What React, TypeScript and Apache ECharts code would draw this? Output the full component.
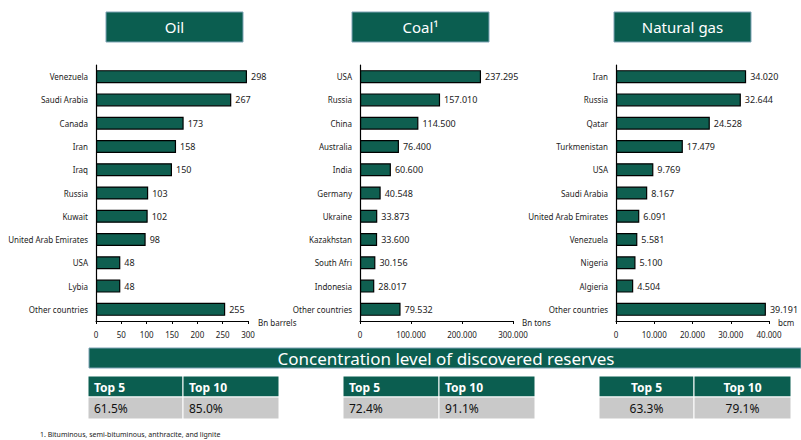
import React, { useEffect, useRef } from "react";
import * as echarts from "echarts";

const oilCountries = ["Venezuela", "Saudi Arabia", "Canada", "Iran", "Iraq", "Russia", "Kuwait", "United Arab Emirates", "USA", "Lybia", "Other countries"];
const oilValues = [298, 267, 173, 158, 150, 103, 102, 98, 48, 48, 255];

const coalCountries = ["USA", "Russia", "China", "Australia", "India", "Germany", "Ukraine", "Kazakhstan", "South Afri", "Indonesia", "Other countries"];
const coalValues = [237295, 157010, 114500, 76400, 60600, 40548, 33873, 33600, 30156, 28017, 79532];

const gasCountries = ["Iran", "Russia", "Qatar", "Turkmenistan", "USA", "Saudi Arabia", "United Arab Emirates", "Venezuela", "Nigeria", "Algieria", "Other countries"];
const gasValues = [34020, 32644, 24528, 17479, 9769, 8167, 6091, 5581, 5100, 4504, 39191];

const panelTitles = ["Oil", "Coal¹", "Natural gas"];
const unitLabels = ["Bn barrels", "Bn tons", "bcm"];
const axisMax = [300, 300000, 40000];
const axisInterval = [50, 100000, 10000];

const concHeaders = ["Top 5", "Top 10"];
const oilConc = ["61.5%", "85.0%"];
const coalConc = ["72.4%", "91.1%"];
const gasConc = ["63.3%", "79.1%"];
const bannerText = "Concentration level of discovered reserves";
const footnote = "1. Bituminous, semi-bituminous, anthracite, and lignite";

const GREEN = "#0B5E50";
const BAR = "#0F5F50";
const FONT = "'Noto Sans', 'Open Sans', sans-serif";

const fmtDots = (n: number) => String(n).replace(/\B(?=(\d{3})+(?!\d))/g, ".");

export default function App() {
  const ref = useRef<HTMLDivElement>(null);
  useEffect(() => {
    if (!ref.current) return;
    const chart = echarts.init(ref.current, null, { renderer: "svg" });

    const grids = [
      { left: 96, top: 65, width: 152, height: 256 },
      { left: 360, top: 65, width: 153, height: 256 },
      { left: 616, top: 65, width: 153, height: 256 },
    ];
    const cats = [oilCountries, coalCountries, gasCountries];
    const vals = [oilValues, coalValues, gasValues];
    const fmts = [(v: number) => String(v), fmtDots, fmtDots];

    const titleBoxes = [
      { x: 106, w: 137 },
      { x: 352, w: 137 },
      { x: 614, w: 137 },
    ];
    const unitPos = [258, 522, 778];

    const graphic: any[] = [];
    titleBoxes.forEach((b, i) => {
      graphic.push({
        type: "rect",
        shape: { x: b.x, y: 12, width: b.w, height: 30 },
        style: { fill: GREEN, stroke: "#7FA3B5", lineWidth: 1 },
      });
      graphic.push({
        type: "text",
        x: b.x + b.w / 2,
        y: 27,
        style: { text: panelTitles[i], fill: "#fff", font: `15px ${FONT}`, align: "center", verticalAlign: "middle" },
      });
      graphic.push({
        type: "text",
        x: unitPos[i],
        y: 322,
        style: { text: unitLabels[i], fill: "#222", font: `8px ${FONT}`, align: "left", verticalAlign: "middle" },
      });
    });

    graphic.push({
      type: "rect",
      shape: { x: 89, y: 348, width: 712, height: 20 },
      style: { fill: GREEN, stroke: "#7FA3B5", lineWidth: 1 },
    });
    graphic.push({
      type: "text",
      x: 446,
      y: 358,
      style: { text: bannerText, fill: "#fff", font: `17px ${FONT}`, align: "center", verticalAlign: "middle" },
    });

    const tables = [
      { x: 88, split: 183, end: 279, vals: oilConc, center: false },
      { x: 343, split: 439, end: 535, vals: coalConc, center: false },
      { x: 599, split: 694, end: 791, vals: gasConc, center: true },
    ];
    tables.forEach((t) => {
      const cols = [
        [t.x, t.split],
        [t.split, t.end],
      ];
      cols.forEach((c, j) => {
        const w = c[1] - c[0];
        graphic.push({
          type: "rect",
          shape: { x: c[0], y: 376, width: w, height: 21 },
          style: { fill: GREEN, stroke: "#ffffff", lineWidth: 1 },
        });
        graphic.push({
          type: "rect",
          shape: { x: c[0], y: 397, width: w, height: 22 },
          style: { fill: "#C9C9C9", stroke: "#ffffff", lineWidth: 1 },
        });
        graphic.push({
          type: "text",
          x: t.center ? c[0] + w / 2 : c[0] + 6,
          y: 387,
          style: {
            text: concHeaders[j],
            fill: "#fff",
            font: `bold 12px ${FONT}`,
            align: t.center ? "center" : "left",
            verticalAlign: "middle",
          },
        });
        graphic.push({
          type: "text",
          x: t.center ? c[0] + w / 2 : c[0] + 6,
          y: 408,
          style: {
            text: t.vals[j],
            fill: "#111",
            font: `12px ${FONT}`,
            align: t.center ? "center" : "left",
            verticalAlign: "middle",
          },
        });
      });
    });

    graphic.push({
      type: "text",
      x: 40,
      y: 434,
      style: { text: footnote, fill: "#222", font: `7px ${FONT}`, align: "left", verticalAlign: "middle" },
    });

    chart.setOption({
      animation: false,
      backgroundColor: "#fff",
      grid: grids,
      xAxis: grids.map((_, i) => ({
        type: "value",
        gridIndex: i,
        min: 0,
        max: axisMax[i],
        interval: axisInterval[i],
        splitLine: { show: false },
        axisLine: { show: true, lineStyle: { color: "#000", width: 1.2 } },
        axisTick: { show: true, length: 3, lineStyle: { color: "#000" } },
        axisLabel: {
          color: "#222",
          fontSize: 8,
          fontFamily: FONT,
          margin: 9,
          formatter: (v: number) => fmts[i](v),
        },
      })),
      yAxis: grids.map((_, i) => ({
        type: "category",
        gridIndex: i,
        inverse: true,
        data: cats[i],
        axisLine: { show: true, lineStyle: { color: "#000", width: 1.2 } },
        axisTick: { show: false },
        axisLabel: { color: "#222", fontSize: 8, fontFamily: FONT, margin: 8 },
      })),
      series: grids.map((_, i) => ({
        type: "bar",
        xAxisIndex: i,
        yAxisIndex: i,
        data: vals[i],
        barWidth: 13,
        itemStyle: { color: BAR, borderColor: "#000", borderWidth: 1.2 },
        label: {
          show: true,
          position: "right",
          distance: 4,
          color: "#222",
          fontSize: 9,
          fontFamily: FONT,
          formatter: (p: any) => fmts[i](p.value),
        },
      })),
      graphic,
    });
    return () => chart.dispose();
  }, []);
  return <div ref={ref} style={{ position: "fixed", left: 0, top: 0, width: 801, height: 440 }} />;
}
